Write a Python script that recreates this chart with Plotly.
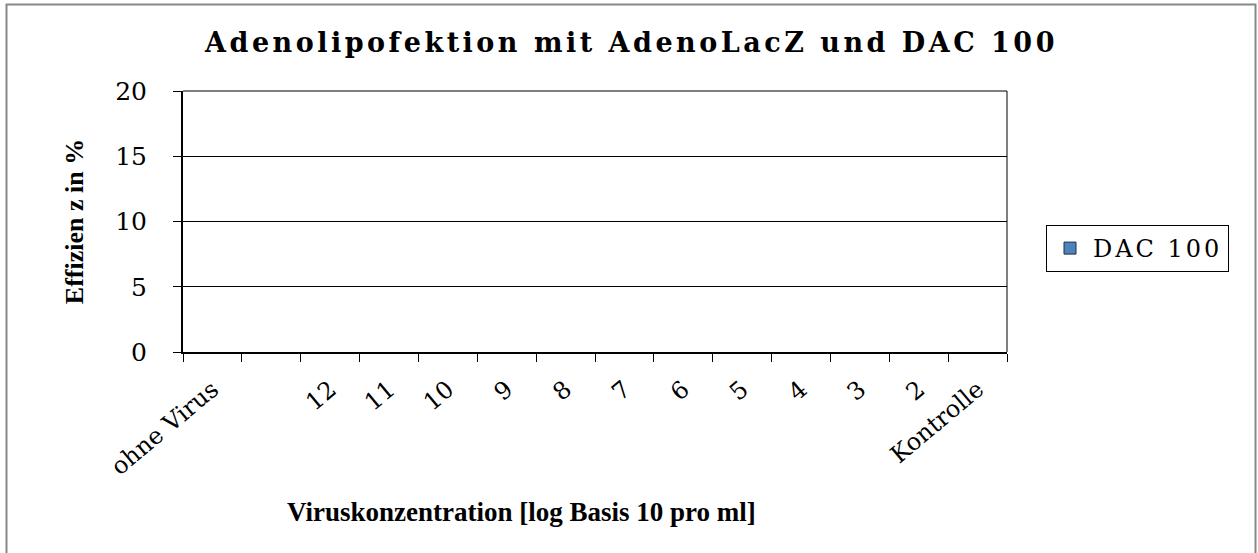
import plotly.graph_objects as go

categories = ["ohne Virus", " ", "12", "11", "10", "9", "8", "7", "6", "5", "4", "3", "2", "Kontrolle"]
dac100 = [None] * len(categories)  # no bars are visible in the chart
y_ticks = [0, 5, 10, 15, 20]

W, H = 1258, 553
L, R, T, B = 183, 1007, 91, 352

fig = go.Figure()
fig.add_trace(go.Bar(
    x=categories, y=dac100, name="DAC 100",
    marker=dict(color="#4F81BD", line=dict(color="#1F2F45", width=1)),
))

def px(x):
    return (x - L) / (R - L)

def py(y):
    return (B - y) / (B - T)

fig.update_layout(
    width=W, height=H,
    margin=dict(l=L, r=W - R, t=T, b=H - B, pad=0),
    paper_bgcolor="white", plot_bgcolor="white",
    title=dict(
        text="<b>Adenolipofektion mit AdenoLacZ und DAC 100</b>",
        x=631.5 / W, xanchor="center", y=1 - 43 / H, yanchor="middle",
        xref="container", yref="container",
        font=dict(family="DejaVu Serif", size=27, color="black"),
    ),
    showlegend=True,
    legend=dict(
        x=px(1046), xanchor="left", y=py(248.5), yanchor="middle",
        bordercolor="black", borderwidth=1, bgcolor="white",
        itemwidth=36,
        font=dict(family="DejaVu Serif", size=24, color="black"),
    ),
    xaxis=dict(
        type="category", tickson="boundaries", ticks="outside", ticklen=8,
        tickcolor="black", tickwidth=1, tickangle=-40,
        showline=True, linecolor="black", linewidth=2,
        showgrid=False, ticklabelstandoff=12,
        tickfont=dict(family="DejaVu Serif", size=24, color="black"),
        automargin=False,
    ),
    yaxis=dict(
        range=[0, 20], tickvals=y_ticks, ticks="outside", ticklen=8,
        tickcolor="black", tickwidth=1,
        showline=True, linecolor="black", linewidth=2,
        showgrid=True, gridcolor="black", gridwidth=1, zeroline=False,
        ticklabelstandoff=21,
        tickfont=dict(family="DejaVu Serif", size=25, color="black"),
        title=dict(text="<b>Effizien z in %</b>", standoff=24,
                   font=dict(family="Liberation Serif", size=26, color="black")),
        automargin=False,
    ),
    annotations=[
        dict(text="<b>Viruskonzentration [log Basis 10 pro ml]</b>",
             xref="paper", yref="paper", x=px(521), y=py(512),
             xanchor="center", yanchor="middle", showarrow=False,
             font=dict(family="Liberation Serif", size=27, color="black")),
    ],
    shapes=[
        dict(type="line", xref="paper", yref="paper", x0=1, x1=1, y0=0, y1=1,
             line=dict(color="black", width=1)),
        dict(type="line", xref="paper", yref="paper", x0=0, x1=1, y0=1, y1=1,
             line=dict(color="black", width=1)),
        dict(type="rect", xref="paper", yref="paper",
             x0=px(6.5), x1=px(1255.5), y0=py(4.5), y1=py(600),
             line=dict(color="#888888", width=2), fillcolor="rgba(0,0,0,0)", layer="below"),
    ],
)

post = """
var gd = document.getElementById('{plot_id}');
var st = document.createElement('style');
st.textContent = '.gtitle{letter-spacing:3.5px;} .legendtext{letter-spacing:3px;}';
document.head.appendChild(st);
Plotly.relayout(gd, {'legend.font.family': 'DejaVu Serif, serif'});
"""

fig.write_html("out.html", post_script=post)
